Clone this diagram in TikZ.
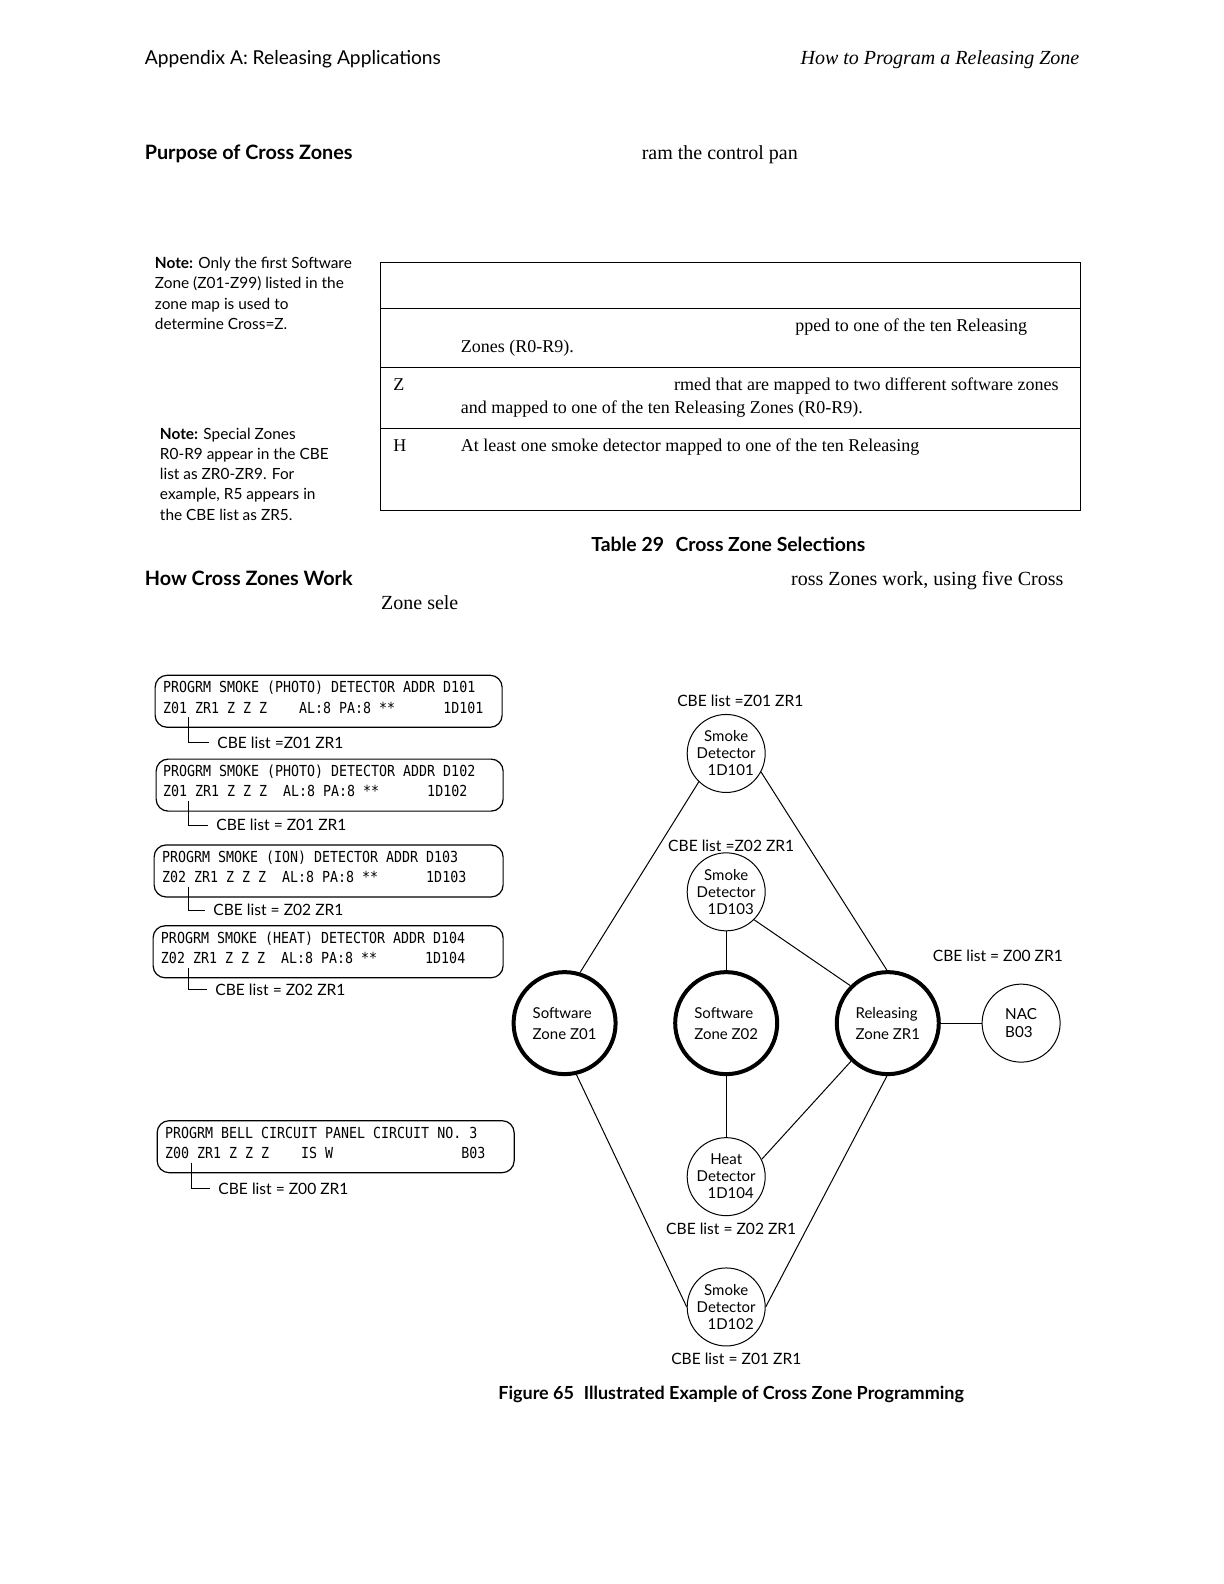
\documentclass[tikz,border=0pt]{standalone}
\usepackage{fontspec}
\setmainfont{Liberation Serif}
\newfontfamily\optfont{Lato}
\newfontfamily\lcdfont{DejaVu Sans Mono}[FakeStretch=0.875]
\begin{document}
\begin{tikzpicture}[x=0.505pt,y=-0.505pt,
 serif/.style={font=\fontsize{9}{10.5}\selectfont, inner sep=0, anchor=base west},
 body/.style={font=\fontsize{10}{12}\selectfont, inner sep=0, anchor=base west},
 hdr/.style={font=\optfont\fontsize{9.6}{11}\selectfont, inner sep=0, anchor=base west},
 hdri/.style={font=\fontsize{10}{12}\selectfont\itshape, inner sep=0, anchor=base east},
 head/.style={font=\optfont\bfseries\fontsize{9.9}{11}\selectfont, inner sep=0, anchor=base west},
 tcapt/.style={font=\optfont\bfseries\fontsize{9.7}{11}\selectfont, inner sep=0, anchor=base west},
 fcapt/.style={font=\optfont\bfseries\fontsize{9}{11}\selectfont, inner sep=0, anchor=base west},
 note/.style={font=\optfont\fontsize{7.7}{10}\selectfont, inner sep=0, anchor=base west},
 lcd/.style={font=\lcdfont\fontsize{7.6}{10}\selectfont, inner sep=0, anchor=base west},
 lcdbox/.style={draw, rounded corners=6pt, line width=0.6pt, minimum height=26pt, inner sep=0, anchor=north west},
 cbe/.style={font=\optfont\fontsize{7.8}{10}\selectfont, inner ysep=0, inner xsep=4pt},
 brk/.style={line width=0.5pt},
 det/.style={circle, draw, line width=0.5pt, minimum size=39pt, inner sep=0, align=center, font=\optfont\fontsize{7.5}{8.5}\selectfont},
 zone/.style={circle, draw, line width=2pt, minimum size=51pt, inner sep=0, align=left, font=\optfont\fontsize{7.5}{10.5}\selectfont},
 nacc/.style={circle, draw, line width=0.5pt, minimum size=39pt, inner sep=0, align=left, font=\optfont\fontsize{7.6}{9}\selectfont},
 wire/.style={line width=0.5pt},
 grid/.style={line width=0.5pt}]
\useasboundingbox (0,0) rectangle (1211.88,1568.32);
\fill[white] (0,0) rectangle (1211.88,1568.32);

% header
\node[hdr] (hl) at (143,64) {Appendix A: Releasing Applications};
\node[hdri] (hr) at (1069,64) {How to Program a Releasing Zone};

\node[head] (h1) at (143,158) {Purpose of Cross Zones};
\node[body] (t1) at (635,158) {ram the control pan};

% note 1
\node[note] (n1a) at (153,266) {\textbf{Note:} Only the first Software};
\node[note] (n1b) at (153,286) {Zone (Z01-Z99) listed in the};
\node[note] (n1c) at (153,306) {zone map is used to};
\node[note] (n1d) at (153,326) {determine Cross=Z.};

% note 2
\node[note] (n2a) at (158,435) {\textbf{Note:} Special Zones};
\node[note] (n2b) at (158,455) {R0-R9 appear in the CBE};
\node[note] (n2c) at (158,475) {list as ZR0-ZR9. For};
\node[note] (n2d) at (158,495) {example, R5 appears in};
\node[note] (n2e) at (158,515) {the CBE list as ZR5.};

% table
\draw[grid] (377,260) rectangle (1070,505);
\draw[grid] (377,305) -- (1070,305);
\draw[grid] (377,364) -- (1070,364);
\draw[grid] (377,424) -- (1070,424);
\node[serif] (r1a) at (787,328) {pped to one of the ten Releasing};
\node[serif] (r1b) at (456,349) {Zones (R0-R9).};
\node[serif] (r2k) at (389,387) {Z};
\node[serif] (r2a) at (667,387) {rmed that are mapped to two different software zones};
\node[serif] (r2b) at (456,409) {and mapped to one of the ten Releasing Zones (R0-R9).};
\node[serif] (r3k) at (389,447) {H};
\node[serif] (r3a) at (456,447) {At least one smoke detector mapped to one of the ten Releasing};

\node[tcapt] (tcap) at (585,546) {Table 29\hspace{0.35em} Cross Zone Selections};

\node[head] (h2) at (143,580) {How Cross Zones Work};
\node[body] (t2) at (783,580) {ross Zones work, using five Cross};
\node[body] (t3) at (377,603) {Zone sele};

% LCD boxes
\node[lcdbox, minimum width=173.5pt] (b1) at (153,668) {};
\node[lcd] (b1a) at (161,686) {PROGRM SMOKE (PHOTO) DETECTOR ADDR D101};
\node[lcd] (b1b) at (161,706) {Z01 ZR1 Z Z Z~~~~AL:8 PA:8 **~~~~~~1D101};
\coordinate (k1) at (187,710);
\node[cbe, anchor=west] (l1) at (207,735) {CBE list =Z01 ZR1};
\draw[brk] (k1) |- (l1.west);

\node[lcdbox, minimum width=173.5pt] (b2) at (154,751) {};
\node[lcd] (b2a) at (161,769) {PROGRM SMOKE (PHOTO) DETECTOR ADDR D102};
\node[lcd] (b2b) at (161,789) {Z01 ZR1 Z Z Z~~AL:8 PA:8 **~~~~~~1D102};
\coordinate (k2) at (187,793);
\node[cbe, anchor=west] (l2) at (206,817) {CBE list = Z01 ZR1};
\draw[brk] (k2) |- (l2.west);

\node[lcdbox, minimum width=174.5pt] (b3) at (152,836) {};
\node[lcd] (b3a) at (160,854) {PROGRM SMOKE (ION) DETECTOR ADDR D103};
\node[lcd] (b3b) at (160,874) {Z02 ZR1 Z Z Z~~AL:8 PA:8 **~~~~~~1D103};
\coordinate (k3) at (187,878);
\node[cbe, anchor=west] (l3) at (203,901) {CBE list = Z02 ZR1};
\draw[brk] (k3) |- (l3.west);

\node[lcdbox, minimum width=175pt] (b4) at (151,916) {};
\node[lcd] (b4a) at (159,934) {PROGRM SMOKE (HEAT) DETECTOR ADDR D104};
\node[lcd] (b4b) at (159,954) {Z02 ZR1 Z Z Z~~AL:8 PA:8 **~~~~~~1D104};
\coordinate (k4) at (187,958);
\node[cbe, anchor=west] (l4) at (205,980) {CBE list = Z02 ZR1};
\draw[brk] (k4) |- (l4.west);

\node[lcdbox, minimum width=178.5pt] (b5) at (155,1109) {};
\node[lcd] (b5a) at (163,1127) {PROGRM BELL CIRCUIT PANEL CIRCUIT NO. 3};
\node[lcd] (b5b) at (163,1147) {Z00 ZR1 Z Z Z~~~~IS W~~~~~~~~~~~~~~~~B03};
\coordinate (k5) at (190,1151);
\node[cbe, anchor=west] (l5) at (208,1177) {CBE list = Z00 ZR1};
\draw[brk] (k5) |- (l5.west);

% graph
\node[det] (d101) at (719,746) {Smoke\\Detector\\\hspace*{4.5pt}1D101};
\node[det] (d103) at (719,883) {Smoke\\Detector\\\hspace*{4.5pt}1D103};
\node[zone] (z01) at (559,1013) {Software\\Zone Z01};
\node[zone] (z02) at (719,1013) {Software\\Zone Z02};
\node[zone] (zr1) at (879,1013) {Releasing\\Zone ZR1};
\node[nacc] (nac) at (1011,1013) {NAC\\B03};
\node[det] (d104) at (719,1165) {Heat\\Detector\\\hspace*{4.5pt}1D104};
\node[det] (d102) at (719,1294) {Smoke\\Detector\\\hspace*{4.5pt}1D102};

\node[cbe] (c101) at (733,694) {CBE list =Z01 ZR1};
\node[cbe] (c103) at (724,837) {CBE list =Z02 ZR1};
\node[cbe] (cnac) at (988,946) {CBE list = Z00 ZR1};
\node[cbe] (c104) at (724,1217) {CBE list = Z02 ZR1};
\node[cbe] (c102) at (729,1345) {CBE list = Z01 ZR1};

\draw[wire] (d101.-134) -- (z01.73);
\draw[wire] (d101.-28) -- (zr1.91);
\draw[wire] (d103) -- (z02);
\draw[wire] (d103.-45) -- (zr1.135);
\draw[wire] (z01.-77) -- (d102.west);
\draw[wire] (z02) -- (d104);
\draw[wire] (zr1.-134) -- (d104.26);
\draw[wire] (zr1.-91) -- (d102.east);
\draw[wire] (zr1) -- (nac);

\node[fcapt] (fcap) at (493,1386) {Figure 65\hspace{0.3em} Illustrated Example of Cross Zone Programming};
\end{tikzpicture}
\end{document}
